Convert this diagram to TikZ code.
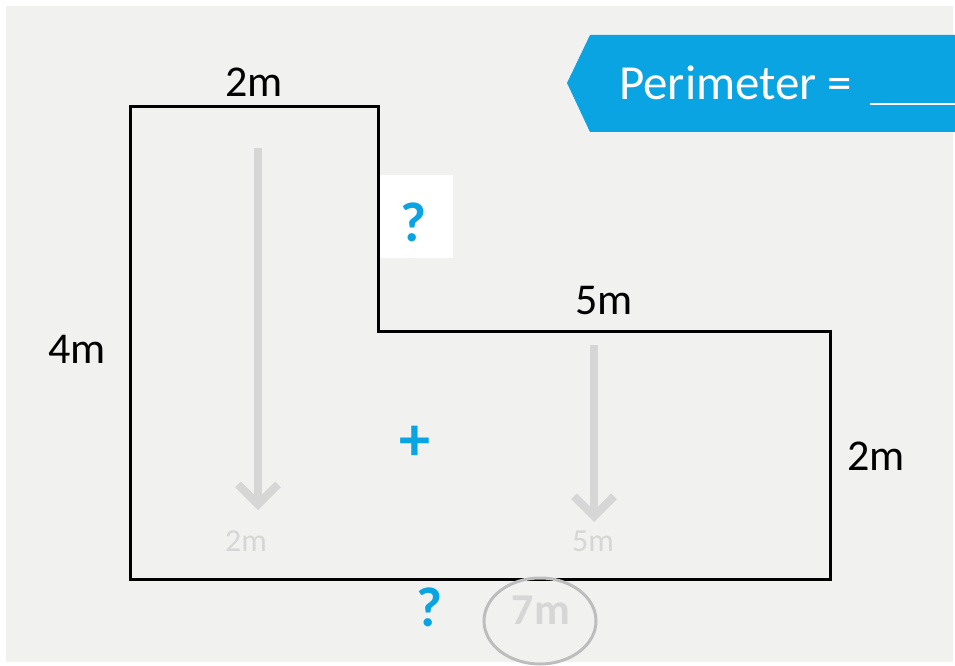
\documentclass[tikz,border=0pt]{standalone}
\usepackage{fontspec}
\setmainfont{Carlito}
\usetikzlibrary{arrows.meta,shapes.geometric}
\definecolor{bg}{HTML}{F1F1F0}
\definecolor{skyblue}{HTML}{0AA4E2}
\definecolor{lgray}{HTML}{D6D6D6}
\definecolor{egray}{HTML}{BDBDBD}
\tikzset{
  dim/.style={font=\fontsize{44}{48}\selectfont, text=black, inner sep=0pt},
  ghost/.style={font=\fontsize{32}{35}\selectfont, text=lgray, inner sep=0pt},
  qmark/.style={font=\bfseries\fontsize{56}{60}\selectfont, text=skyblue, inner sep=0pt},
  guide/.style={draw=lgray, line width=8pt, -{Straight Barb[length=20pt,width=40pt,line width=8pt]}},
}
\begin{document}
\begin{tikzpicture}[x=1pt,y=-1pt]
\useasboundingbox (0,0) rectangle (955,666);
\fill[white] (0,0) rectangle (955,666);
\fill[bg] (6,6) rectangle (953,662);
% banner
\fill[skyblue] (567,83) -- (590,35) -- (955,35) -- (955,132) -- (590,132) -- cycle;
\node[font=\fontsize{49}{52}\selectfont, text=white, anchor=base west, inner sep=0pt] (perim) at (619,100) {Perimeter =};
\coordinate (ulA) at (870,104);
\coordinate (ulB) at (955,104);
\draw[white, line width=2pt] (ulA) -- (ulB);
% L shape
\draw[black, line width=3pt, line join=miter] (130,107) -- (378,107) -- (378,331) -- (830,331) -- (830,579) -- (130,579) -- cycle;
% white box with ?
\fill[white] (380,175) rectangle (453,258);
\node[qmark] (q1) at (413,222) {?};
% labels
\node[dim] (top) at (254,82) {2m};
\node[dim] (left) at (77,349) {4m};
\node[dim] (mid) at (604,301) {5m};
\node[dim] (right) at (876,456) {2m};
% guide arrows
\coordinate (a1s) at (258,148);
\coordinate (a1e) at (258,510);
\coordinate (a2s) at (594,345);
\coordinate (a2e) at (594,522);
\draw[guide] (a1s) -- (a1e);
\draw[guide] (a2s) -- (a2e);
\node[ghost] (g1) at (246,541) {2m};
\node[ghost] (g2) at (593,541) {5m};
% plus
\node[font=\bfseries\fontsize{62}{66}\selectfont, text=skyblue, inner sep=0pt] (plus) at (415,443) {+};
% bottom
\node[qmark] (q2) at (429,607) {?};
\node[draw=egray, line width=3pt, ellipse, minimum width=112pt, minimum height=86pt, inner sep=0pt] (ell) at (540,621) {};
\node[font=\bfseries\fontsize{44}{48}\selectfont, text=lgray, inner sep=0pt] (seven) at (541,610) {7m};
\end{tikzpicture}
\end{document}
